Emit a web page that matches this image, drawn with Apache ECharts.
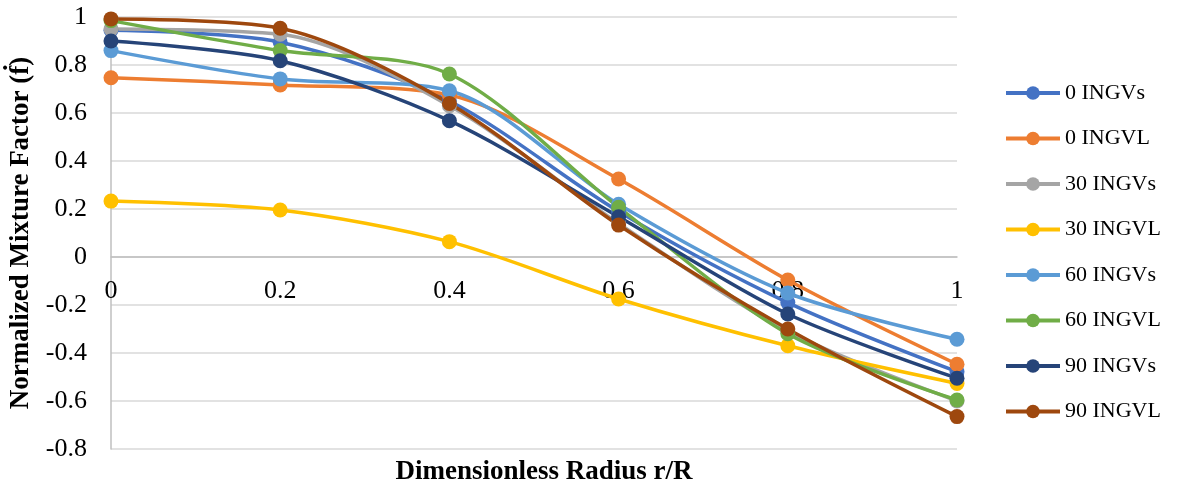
<!DOCTYPE html>
<html><head><meta charset="utf-8">
<script src="https://cdn.jsdelivr.net/npm/echarts@6/dist/echarts.min.js"></script>
<style>html,body{margin:0;padding:0;background:#fff}#c{width:1185px;height:484px}</style>
</head><body><div id="c"></div>
<script>
const xValues = [0, 0.2, 0.4, 0.6, 0.8, 1];
const seriesNames = ['0 INGVs','0 INGVL','30 INGVs','30 INGVL','60 INGVs','60 INGVL','90 INGVs','90 INGVL'];
const s0INGVs  = [0.945, 0.895, 0.65, 0.19, -0.19, -0.478];
const s0INGVL  = [0.747, 0.717, 0.675, 0.325, -0.096, -0.447];
const s30INGVs = [0.95, 0.928, 0.63, 0.14, -0.31, -0.6];
const s30INGVL = [0.233, 0.196, 0.064, -0.175, -0.37, -0.527];
const s60INGVs = [0.86, 0.742, 0.693, 0.22, -0.15, -0.343];
const s60INGVL = [0.985, 0.86, 0.7625, 0.207, -0.32, -0.596];
const s90INGVs = [0.9, 0.818, 0.568, 0.168, -0.2375, -0.505];
const s90INGVL = [0.992, 0.953, 0.64, 0.133, -0.3, -0.665];
const yTicks = ['-0.8','-0.6','-0.4','-0.2','0','0.2','0.4','0.6','0.8','1'];
const allData = [s0INGVs, s0INGVL, s30INGVs, s30INGVL, s60INGVs, s60INGVL, s90INGVs, s90INGVL];
const colors = ['#4472C4','#ED7D31','#A5A5A5','#FFC000','#5B9BD5','#70AD47','#264478','#9E480E'];
const font = 'Liberation Serif';
const fmt = v => { const r = Math.round(v*10)/10; return String(r); };
const chart = echarts.init(document.getElementById('c'));
chart.setOption({
  animation: false,
  color: colors,
  grid: {left: 111, right: 228, top: 17, bottom: 35, containLabel: false, outerBoundsMode: 'none'},
  title: {text: 'Dimensionless Radius r/R', left: 539, top: 454, textAlign: 'center',
    textStyle: {fontFamily: font, fontSize: 27, fontWeight: 'bold', color: '#000'}},
  legend: {orient: 'vertical', left: 1004, top: 82, padding: 0, itemWidth: 54, itemHeight: 17, itemGap: 23.5,
    lineStyle: {width: 4},
    textStyle: {fontFamily: font, fontSize: 22, color: '#000'},
    data: seriesNames},
  xAxis: {type: 'value', min: 0, max: 1, interval: 0.2, position: 'bottom', offset: -192,
    axisLine: {onZero: false, lineStyle: {color: '#bfbfbf', width: 1.5}},
    axisTick: {show: false}, splitLine: {show: false},
    axisLabel: {fontFamily: font, fontSize: 26, color: '#000', margin: 21, formatter: fmt}},
  yAxis: {type: 'value', min: -0.8, max: 1, interval: 0.2,
    name: 'Normalized Mixture Factor (ḟ)', nameLocation: 'middle', nameGap: 68,
    nameTextStyle: {fontFamily: font, fontSize: 27, fontWeight: 'bold', color: '#000'},
    axisLine: {show: true, onZero: false, lineStyle: {color: '#bfbfbf', width: 1.5}},
    axisTick: {show: false},
    splitLine: {lineStyle: {color: '#d9d9d9', width: 1.5}},
    axisLabel: {fontFamily: font, fontSize: 26, color: '#000', margin: 24,
      formatter: v => yTicks[Math.round((v + 0.8) / 0.2)]}},
  series: seriesNames.map((n, i) => ({
    name: n, type: 'line', smooth: 0.3,
    data: xValues.map((x, j) => [x, allData[i][j]]),
    symbol: 'circle', symbolSize: 15,
    lineStyle: {width: 3.5}, itemStyle: {color: colors[i]}
  }))
});
</script></body></html>
